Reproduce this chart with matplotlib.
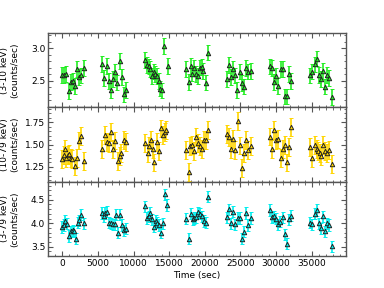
import matplotlib
matplotlib.use("Agg")
import matplotlib.pyplot as plt
from matplotlib.ticker import MultipleLocator

# ---- data: panel 1 (3-10 keV) ----
t_soft = [0, 280, 560, 885, 1210, 1490, 1770, 2100, 2380, 2610, 2980,
          5590, 5920, 6240, 6570, 6850, 7180, 7460, 7740, 8060, 8390, 8670, 8990,
          11650, 11880, 12120, 12350, 12580, 12820, 13050, 13280, 13510, 13750, 13980, 14310, 14770,
          17380, 17710, 17990, 18220, 18500, 18730, 19010, 19290, 19570, 19810, 20130, 20460,
          23110, 23390, 23670, 23950, 24230, 24560, 24880, 25210, 25540, 25820, 26100, 26420,
          29080, 29360, 29640, 29960, 30290, 30620, 30900, 31220, 31500, 31780, 32110,
          34810, 35090, 35420, 35700, 35980, 36260, 36540, 36860, 37190, 37470, 37790]
r_soft = [2.59, 2.59, 2.60, 2.34, 2.48, 2.50, 2.42, 2.68, 2.56, 2.58, 2.69,
          2.76, 2.54, 2.73, 2.50, 2.35, 2.53, 2.64, 2.47, 2.80, 2.56, 2.29, 2.36,
          2.82, 2.74, 2.72, 2.68, 2.57, 2.64, 2.60, 2.57, 2.50, 2.38, 2.35, 3.03, 2.73,
          2.68, 2.48, 2.73, 2.61, 2.69, 2.60, 2.57, 2.70, 2.71, 2.65, 2.47, 2.93,
          2.53, 2.74, 2.56, 2.68, 2.58, 2.36, 2.64, 2.46, 2.41, 2.69, 2.64, 2.65,
          2.72, 2.69, 2.48, 2.57, 2.42, 2.68, 2.68, 2.26, 2.26, 2.60, 2.50,
          2.58, 2.64, 2.75, 2.84, 2.59, 2.53, 2.65, 2.41, 2.59, 2.54, 2.25]
e_soft = 0.12

# ---- data: panel 2 (10-79 keV) ----
t_hard = [0, 190, 330, 560, 750, 930, 1170, 1400, 1770, 2000, 2330, 2610, 2980,
          5590, 5960, 6240, 6520, 6900, 7180, 7460, 7780, 8060, 8290, 8620, 8950,
          11650, 11980, 12160, 12440, 12680, 12910, 13230, 13560, 13840, 14170, 14350, 14590,
          17380, 17710, 17890, 18170, 18500, 18830, 19060, 19290, 19570, 19850, 20130, 20460,
          23110, 23390, 23670, 23950, 24280, 24600, 24880, 25210, 25490, 25820, 26100, 26420,
          29080, 29410, 29690, 29960, 30290, 30620, 30900, 31220, 31500, 31780, 32150,
          34810, 35090, 35420, 35700, 35930, 36170, 36350, 36630, 36910, 37140, 37470, 37790]
r_hard = [1.34, 1.38, 1.455, 1.355, 1.38, 1.39, 1.355, 1.34, 1.26, 1.35, 1.545, 1.60, 1.32,
          1.455, 1.61, 1.53, 1.52, 1.64, 1.455, 1.545, 1.32, 1.37, 1.41, 1.555, 1.53,
          1.52, 1.41, 1.485, 1.55, 1.455, 1.30, 1.53, 1.43, 1.68, 1.61, 1.64, 1.66,
          1.44, 1.195, 1.485, 1.50, 1.43, 1.58, 1.52, 1.485, 1.455, 1.55, 1.55, 1.66,
          1.62, 1.58, 1.455, 1.565, 1.44, 1.76, 1.49, 1.24, 1.41, 1.55, 1.44, 1.485,
          1.59, 1.455, 1.66, 1.555, 1.565, 1.35, 1.455, 1.50, 1.30, 1.475, 1.70,
          1.47, 1.355, 1.50, 1.455, 1.43, 1.41, 1.37, 1.50, 1.43, 1.41, 1.44, 1.28]
e_hard = 0.10

# ---- data: panel 3 (3-79 keV) ----
t_full = [0, 190, 370, 650, 885, 1170, 1440, 1680, 1860, 2140, 2380, 2660, 2980,
          5590, 5870, 6060, 6340, 6570, 6850, 7130, 7410, 7550, 7830, 8110, 8390, 8670, 8990,
          11650, 11880, 12120, 12350, 12580, 12860, 13090, 13330, 13560, 13840, 14070, 14400, 14730,
          17380, 17710, 17990, 18270, 18500, 18780, 19060, 19290, 19570, 19850, 20180, 20460,
          23110, 23390, 23670, 23950, 24280, 24600, 24880, 25210, 25490, 25820, 26100, 26420,
          29080, 29360, 29640, 29960, 30290, 30570, 30900, 31220, 31500, 31830, 32150,
          34810, 35090, 35420, 35700, 35980, 36260, 36540, 36860, 37140, 37470, 37790]
r_full = [3.92, 3.96, 4.05, 3.99, 3.73, 3.83, 3.85, 3.83, 3.67, 4.01, 4.06, 4.18, 4.00,
          4.22, 4.15, 4.22, 4.25, 4.01, 4.00, 3.98, 3.98, 4.18, 3.80, 4.18, 3.96, 3.85, 3.88,
          4.36, 4.11, 4.15, 4.22, 4.08, 3.93, 4.05, 4.01, 3.96, 3.80, 4.00, 4.62, 4.39,
          4.10, 3.67, 4.20, 4.08, 4.11, 4.13, 4.23, 4.20, 4.15, 4.05, 4.01, 4.57,
          4.13, 4.30, 4.00, 4.25, 3.98, 4.11, 4.11, 3.67, 3.82, 4.22, 3.96, 4.11,
          4.28, 4.13, 4.15, 4.10, 3.98, 4.03, 4.13, 3.76, 3.56, 4.08, 4.16,
          4.01, 3.98, 4.20, 4.28, 4.00, 3.89, 4.15, 3.83, 4.00, 3.96, 3.51]
e_full = 0.12

labels = ["(3-10 keV)\n(counts/sec)", "(10-79 keV)\n(counts/sec)", "(3-79 keV)\n(counts/sec)"]
colors = ["#22ee22", "#ffd500", "#00eeee"]
ylims = [(2.09, 3.23), (1.085, 1.915), (3.30, 4.886)]
ymaj = [0.5, 0.25, 0.5]
ymin = [0.1, 0.05, 0.1]

plt.rcParams['font.family'] = ['DejaVu Sans']
fig = plt.figure(figsize=(3.84, 2.88), dpi=100)
axes = fig.subplots(3, 1, sharex=True)
fig.subplots_adjust(left=0.125, right=0.901, top=0.885, bottom=0.111, hspace=0)

series = [(t_soft, r_soft, e_soft), (t_hard, r_hard, e_hard), (t_full, r_full, e_full)]
for ax, (t, r, e), lab, c, yl, mj, mn in zip(axes, series, labels, colors, ylims, ymaj, ymin):
    ax.errorbar(t, r, yerr=e, fmt='^', color=c, ecolor=c, elinewidth=1.2, capsize=1.2,
                capthick=0.8, markersize=3.2, markerfacecolor=c, markeredgecolor='#222222',
                markeredgewidth=0.7, zorder=3)
    ax.set_ylim(*yl)
    ax.set_xlim(-2000, 39800)
    ax.yaxis.set_major_locator(MultipleLocator(mj))
    ax.yaxis.set_minor_locator(MultipleLocator(mn))
    ax.xaxis.set_major_locator(MultipleLocator(5000))
    ax.xaxis.set_minor_locator(MultipleLocator(1000))
    ax.tick_params(which='both', direction='in', top=True, right=True, labelsize=6.5,
                   color='#555555', pad=2)
    ax.tick_params(which='major', length=3.5, width=0.8)
    ax.tick_params(which='minor', length=1.8, width=0.6)
    for s in ax.spines.values():
        s.set_color('#555555')
        s.set_linewidth(1.0)
    ax.set_ylabel(lab, fontsize=6.5, labelpad=4)

axes[-1].set_xlabel("Time (sec)", fontsize=6.5, labelpad=2)
fig.align_ylabels(axes)
fig.savefig("out.png", dpi=100)
